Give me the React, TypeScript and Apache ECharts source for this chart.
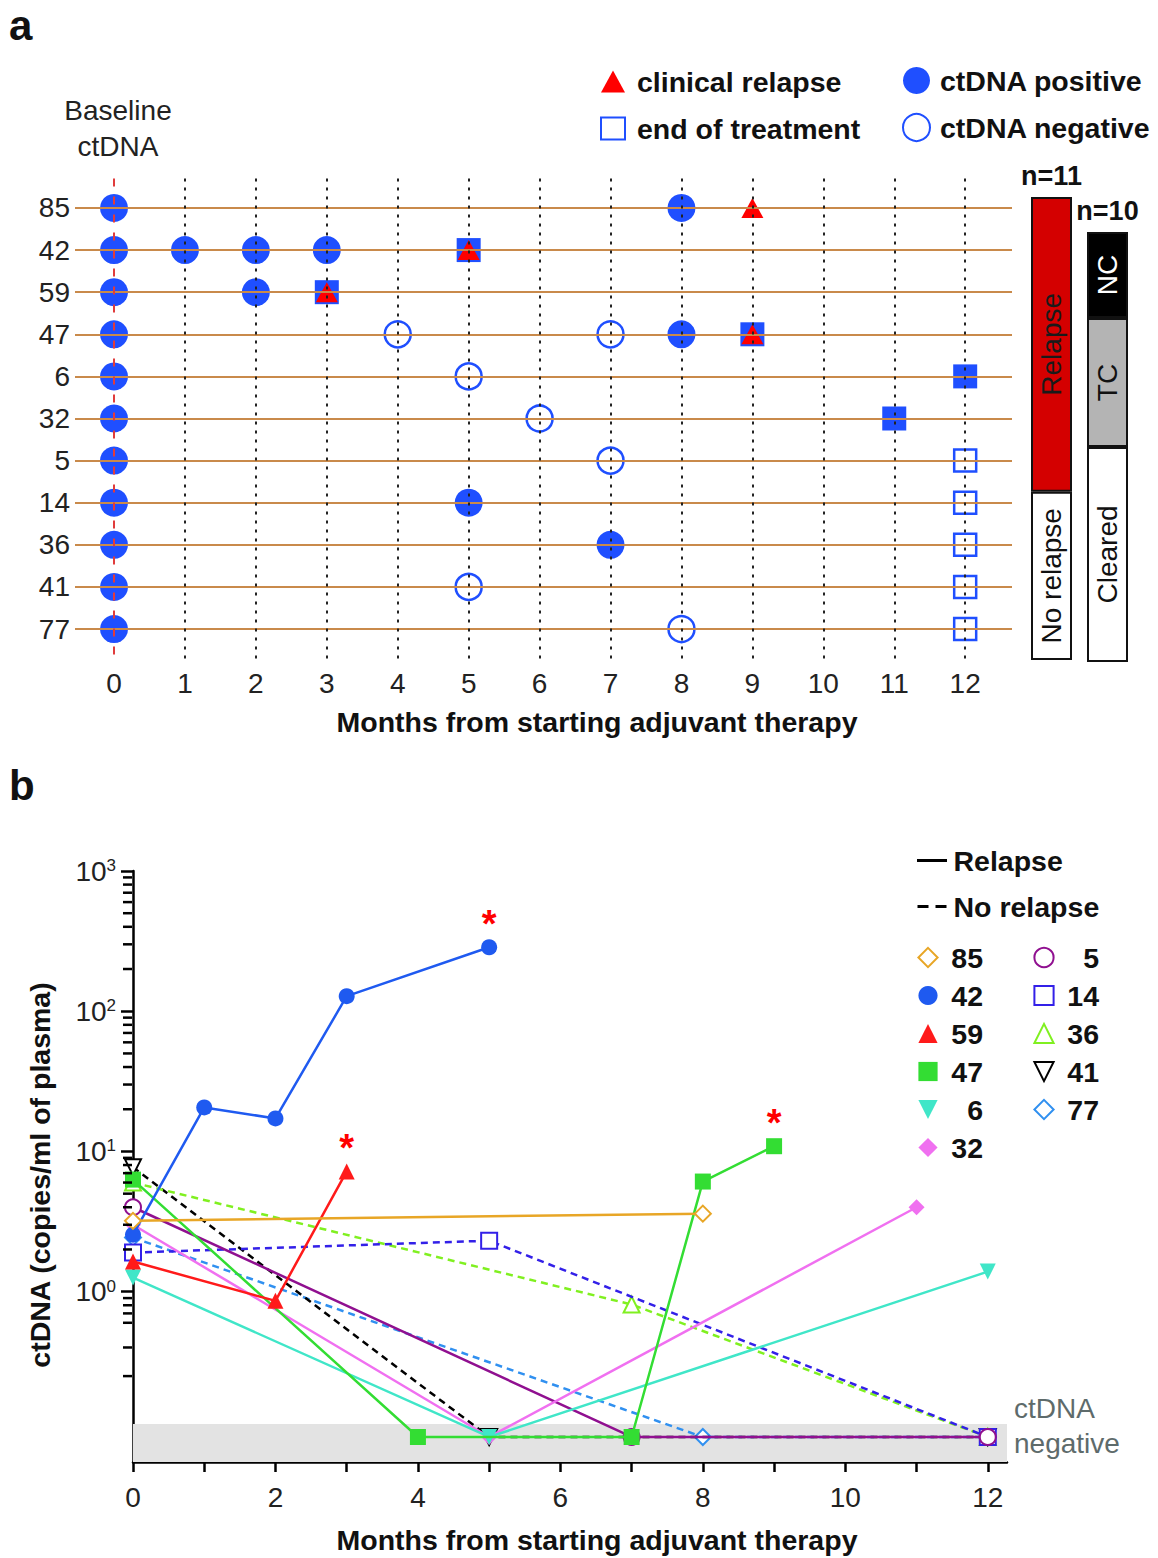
import React, { useEffect, useRef } from 'react';
import * as echarts from 'echarts';

const FONT = 'Liberation Sans, Arial, Helvetica, sans-serif';

// ---------------- Panel a data ----------------
const ROWS = ['85', '42', '59', '47', '6', '32', '5', '14', '36', '41', '77'];
const MONTHS_A = [0, 1, 2, 3, 4, 5, 6, 7, 8, 9, 10, 11, 12];
const POSITIVE: [string, number][] = [
  ['85', 0], ['85', 8],
  ['42', 0], ['42', 1], ['42', 2], ['42', 3],
  ['59', 0], ['59', 2],
  ['47', 0], ['47', 8],
  ['6', 0], ['32', 0], ['5', 0],
  ['14', 0], ['14', 5],
  ['36', 0], ['36', 7],
  ['41', 0], ['77', 0],
];
const NEGATIVE: [string, number][] = [
  ['47', 4], ['47', 7], ['6', 5], ['32', 6], ['5', 7], ['41', 5], ['77', 8],
];
const EOT_POS: [string, number][] = [['42', 5], ['59', 3], ['47', 9], ['6', 12], ['32', 11]];
const EOT_NEG: [string, number][] = [['5', 12], ['14', 12], ['36', 12], ['41', 12], ['77', 12]];
const RELAPSE: [string, number][] = [['85', 9], ['42', 5], ['59', 3], ['47', 9]];

// Summary bars
const BAR_N = ['n=11', 'n=10'];
const BAR1_LABELS = ['No relapse', 'Relapse'];
const BAR1_VALUES = [4, 7];
const BAR1_COLORS = ['#ffffff', '#d40000'];
const BAR1_TEXT = ['#111111', '#1a1a1a'];
const BAR2_LABELS = ['Cleared', 'TC', 'NC'];
const BAR2_VALUES = [5, 3, 2];
const BAR2_COLORS = ['#ffffff', '#b4b4b4', '#000000'];
const BAR2_TEXT = ['#111111', '#111111', '#ffffff'];

// ---------------- Panel b data ----------------
const NEG = 0.092; // ctDNA negative plotting level
const P85 = [[0, 3.2], [8, 3.6]];
const P42 = [[0, 2.55], [1, 20.6], [2, 17.2], [3, 128], [5, 286]];
const P59 = [[0, 1.64], [2, 0.86], [3, 7.2]];
const P47 = [[0, 6.3], [4, NEG], [7, NEG], [8, 6.1], [9, 10.9]];
const P6 = [[0, 1.26], [5, NEG], [12, 1.39]];
const P32 = [[0, 3.0], [5, NEG], [11, 4.0]];
const P5 = [[0, 4.0], [7, NEG], [12, NEG]];
const P14 = [[0, 1.9], [5, 2.31], [12, NEG]];
const P36 = [[0, 6.0], [7, 0.81], [12, NEG]];
const P41 = [[0, 7.7], [5, NEG], [12, NEG]];
const P77 = [[0, 2.43], [8, NEG], [12, NEG]];

const B_IDS = ['85', '42', '59', '47', '6', '32', '5', '14', '36', '41', '77'];
const B_DATA = [P85, P42, P59, P47, P6, P32, P5, P14, P36, P41, P77];
const B_COLORS = ['#e8a626', '#1f5af0', '#ff1a1a', '#33dd33', '#40e6c8', '#f070f0', '#901090', '#3320e8', '#80f020', '#000000', '#3090f0'];
const B_SYMBOLS = ['emptyDiamond', 'circle', 'triangle', 'rect', 'triangle', 'diamond', 'emptyCircle', 'emptyRect', 'emptyTriangle', 'emptyTriangle', 'emptyDiamond'];
const B_ROTATE = [0, 0, 0, 0, 180, 0, 0, 0, 0, 180, 0];
const B_DASHED = [false, false, false, false, false, false, false, true, true, true, true];
const STARRED = ['42', '59', '47'];
const X_LABELS_B = [0, 2, 4, 6, 8, 10, 12];
const Y_MAJOR = [1, 10, 100, 1000];
const Y_MINOR = [0.25, 0.4, 0.6, 0.7, 0.8, 0.9, 2, 3, 4, 5, 6, 7, 8, 9, 20, 30, 40, 50, 60, 70, 80, 90, 200, 300, 400, 500, 600, 700, 800, 900];
const BAND = [0.061, 0.114];
const NEG_LABEL = 'ctDNA\nnegative';
const X_TITLE = 'Months from starting adjuvant therapy';
const Y_TITLE_B = 'ctDNA (copies/ml of plasma)';

const toRow = (arr: [string, number][]) => arr.map(([id, m]) => [m, ROWS.indexOf(id)]);

const FS = 28; // regular text size
const FSB = 28.5; // bold text size

export default function App() {
  const ref = useRef<HTMLDivElement>(null);
  useEffect(() => {
    document.body.style.margin = '0';
    const chart = echarts.init(ref.current!, null, { renderer: 'svg' });
    const BLUE = '#1f4fff';

    const lineSeriesB = B_IDS.map((id, i) => {
      const data: any[] = B_DATA[i].map((p) => [p[0], p[1]]);
      if (STARRED.includes(id)) {
        const last = data[data.length - 1];
        data[data.length - 1] = {
          value: last,
          label: { show: true, formatter: '*', position: 'top', distance: -4, color: '#ff0000', fontSize: 38, fontWeight: 'bold' },
        };
      }
      const empty = B_SYMBOLS[i].startsWith('empty');
      return {
        name: id,
        type: 'line',
        xAxisIndex: 1,
        yAxisIndex: 1,
        data,
        symbol: B_SYMBOLS[i],
        symbolSize: 16,
        symbolRotate: B_ROTATE[i],
        showSymbol: true,
        z: 30 - i,
        lineStyle: { color: B_COLORS[i], width: 2.5, type: B_DASHED[i] ? [7, 5] : 'solid' },
        itemStyle: { color: B_COLORS[i], borderWidth: empty ? 3 : 0, opacity: 1 },
        emphasis: { disabled: true },
      };
    });

    const legendNum = (left: number, ids: string[]) => ({
      data: ids, orient: 'vertical', left, top: 938, itemWidth: 24, itemHeight: 24, itemGap: 9,
      selectedMode: false, lineStyle: { width: 0, opacity: 0 },
      formatter: (n: string) => `{n|${n}}`,
      textStyle: { rich: { n: { width: 38, align: 'right', fontSize: FSB, fontWeight: 'bold', color: '#111' } } },
    });

    const option: any = {
      animation: false,
      textStyle: { fontFamily: FONT },
      grid: [
        { left: 75, right: 146, top: 178.5, bottom: 1558 - 658.5 },
        { left: 133, right: 151, top: 871, bottom: 96 },
        { left: 1031, width: 41, top: 197, height: 463 },
        { left: 1087, width: 41, top: 232, height: 430 },
      ],
      xAxis: [
        {
          gridIndex: 0, type: 'value', min: -0.55, max: 12.66,
          axisLine: { show: false }, axisTick: { show: false }, splitLine: { show: false },
          axisLabel: { customValues: MONTHS_A, fontSize: FS, color: '#222', margin: 11 },
        },
        {
          gridIndex: 1, type: 'value', min: 0, max: 12.27,
          axisLine: { show: true, onZero: false, lineStyle: { color: '#000', width: 2.5 } },
          axisTick: { show: true, customValues: MONTHS_A, length: 10, lineStyle: { color: '#000', width: 2.5 } },
          axisLabel: { customValues: X_LABELS_B, fontSize: FS, color: '#222', margin: 21 },
          splitLine: { show: false },
        },
        {
          gridIndex: 2, type: 'category', data: [BAR_N[0]], position: 'top',
          axisLine: { show: false }, axisTick: { show: false },
          axisLabel: { fontSize: 27, fontWeight: 'bold', color: '#111', margin: 8 },
        },
        {
          gridIndex: 3, type: 'category', data: [BAR_N[1]], position: 'top',
          axisLine: { show: false }, axisTick: { show: false },
          axisLabel: { fontSize: 27, fontWeight: 'bold', color: '#111', margin: 8 },
        },
      ],
      yAxis: [
        {
          gridIndex: 0, type: 'value', inverse: true, min: -0.7, max: 10.7,
          axisLine: { show: false }, axisTick: { show: false }, splitLine: { show: false },
          axisLabel: { customValues: ROWS.map((_, i) => i), formatter: (v: number) => ROWS[Math.round(v)], fontSize: FS, color: '#222', margin: 5 },
        },
        {
          gridIndex: 1, type: 'log', logBase: 10, min: BAND[0], max: 1000, position: 'left',
          axisLine: { show: true, onZero: false, lineStyle: { color: '#000', width: 2.5 } },
          axisTick: { show: true, customValues: Y_MAJOR, length: 12, lineStyle: { color: '#000', width: 2.5 } },
          axisLabel: {
            customValues: Y_MAJOR, margin: 17,
            formatter: (v: number) => `{b|10}{s|${Math.round(Math.log10(v))}}`,
            rich: { b: { fontSize: FS, color: '#222' }, s: { fontSize: 17, color: '#222', verticalAlign: 'top' } },
          },
          splitLine: { show: false },
        },
        { gridIndex: 2, type: 'value', min: 0, max: 11, show: false },
        { gridIndex: 3, type: 'value', min: 0, max: 10, show: false },
      ],
      legend: [
        {
          data: ['clinical relapse', 'end of treatment'], orient: 'vertical', left: 595, top: 62,
          itemWidth: 24, itemHeight: 22, itemGap: 18, selectedMode: false,
          formatter: (n: string) => `{t|${n}}`,
          textStyle: { rich: { t: { fontSize: FSB, fontWeight: 'bold', color: '#111', padding: [0, 0, 0, 7] } } },
        },
        {
          data: ['ctDNA positive', 'ctDNA negative'], orient: 'vertical', left: 897, top: 61,
          itemWidth: 27, itemHeight: 27, itemGap: 18, selectedMode: false,
          formatter: (n: string) => `{t|${n}}`,
          textStyle: { rich: { t: { fontSize: FSB, fontWeight: 'bold', color: '#111', padding: [0, 0, 0, 5] } } },
        },
        {
          data: [
            { name: 'Relapse', icon: 'path://M0,0H30V3H0Z' },
            { name: 'No relapse', icon: 'path://M0,0H11V3H0Z M18,0H29V3H18Z' },
          ],
          orient: 'vertical', left: 912, top: 841, itemWidth: 33, itemHeight: 3, itemGap: 17, selectedMode: false,
          textStyle: { fontSize: FSB, fontWeight: 'bold', color: '#111' },
        },
        legendNum(911, B_IDS.slice(0, 6)),
        legendNum(1027, B_IDS.slice(6)),
      ],
      graphic: [
        { type: 'text', x: 9, y: 4, style: { text: 'a', fontSize: 42, fontWeight: 'bold', fontFamily: FONT, fill: '#111', verticalAlign: 'top' } },
        { type: 'text', x: 9, y: 764, style: { text: 'b', fontSize: 42, fontWeight: 'bold', fontFamily: FONT, fill: '#111', verticalAlign: 'top' } },
        { type: 'text', x: 118, y: 128, style: { text: 'Baseline\nctDNA', fontSize: FS, lineHeight: 36, fontFamily: FONT, fill: '#222', align: 'center', verticalAlign: 'middle' } },
        { type: 'text', x: 597, y: 722, style: { text: X_TITLE, fontSize: FSB, fontWeight: 'bold', fontFamily: FONT, fill: '#111', align: 'center', verticalAlign: 'middle' } },
        { type: 'text', x: 597, y: 1540, style: { text: X_TITLE, fontSize: FSB, fontWeight: 'bold', fontFamily: FONT, fill: '#111', align: 'center', verticalAlign: 'middle' } },
        { type: 'text', x: 40, y: 1175, rotation: Math.PI / 2, style: { text: Y_TITLE_B, fontSize: FSB, fontWeight: 'bold', fontFamily: FONT, fill: '#111', align: 'center', verticalAlign: 'middle' } },
      ],
      series: [
        // Panel a guide lines
        {
          name: 'guides', type: 'line', xAxisIndex: 0, yAxisIndex: 0, data: [], z: 1, silent: true,
          markLine: {
            silent: true, symbol: ['none', 'none'], label: { show: false }, animation: false,
            data: [
              ...ROWS.map((_, i) => ({ yAxis: i, lineStyle: { color: '#c98a4b', width: 2, type: 'solid' } })),
              ...MONTHS_A.slice(1).map((m) => ({ xAxis: m, lineStyle: { color: '#222', width: 2, type: [3, 6] } })),
              { xAxis: 0, lineStyle: { color: '#e03c3c', width: 2, type: [8, 10] } },
            ],
          },
        },
        {
          name: 'ctDNA positive', type: 'scatter', xAxisIndex: 0, yAxisIndex: 0, data: toRow(POSITIVE),
          symbol: 'circle', symbolSize: 28, itemStyle: { color: BLUE, opacity: 1 }, z: 3,
        },
        {
          name: 'ctDNA negative', type: 'scatter', xAxisIndex: 0, yAxisIndex: 0, data: toRow(NEGATIVE),
          symbol: 'circle', symbolSize: 26, itemStyle: { color: 'rgba(255,255,255,0)', borderColor: BLUE, borderWidth: 2.5, opacity: 1 }, z: 3,
        },
        {
          name: 'end of treatment', type: 'scatter', xAxisIndex: 0, yAxisIndex: 0, data: toRow(EOT_NEG),
          symbol: 'rect', symbolSize: 22, itemStyle: { color: 'rgba(255,255,255,0)', borderColor: BLUE, borderWidth: 2.5, opacity: 1 }, z: 3,
        },
        {
          name: 'end of treatment (ctDNA positive)', type: 'scatter', xAxisIndex: 0, yAxisIndex: 0, data: toRow(EOT_POS),
          symbol: 'rect', symbolSize: 24, itemStyle: { color: BLUE, opacity: 1 }, z: 3,
        },
        {
          name: 'clinical relapse', type: 'scatter', xAxisIndex: 0, yAxisIndex: 0, data: toRow(RELAPSE),
          symbol: 'triangle', symbolSize: [22, 20], itemStyle: { color: '#ff0000', opacity: 1 }, z: 4,
        },
        // Summary bars
        ...BAR1_LABELS.map((lab, i) => ({
          name: 'bar1-' + lab, type: 'bar', stack: 'b1', xAxisIndex: 2, yAxisIndex: 2, barWidth: 41,
          data: [BAR1_VALUES[i]],
          itemStyle: { color: BAR1_COLORS[i], borderColor: '#111', borderWidth: 2 },
          label: { show: true, position: 'inside', rotate: 90, formatter: () => lab, fontSize: FS, color: BAR1_TEXT[i] },
          silent: true,
        })),
        ...BAR2_LABELS.map((lab, i) => ({
          name: 'bar2-' + lab, type: 'bar', stack: 'b2', xAxisIndex: 3, yAxisIndex: 3, barWidth: 41,
          data: [BAR2_VALUES[i]],
          itemStyle: { color: BAR2_COLORS[i], borderColor: '#111', borderWidth: 2 },
          label: { show: true, position: 'inside', rotate: 90, formatter: () => lab, fontSize: FS, color: BAR2_TEXT[i] },
          silent: true,
        })),
        // Panel b minor ticks (log spaced), placed through the axis scale
        {
          name: 'minor ticks', type: 'scatter', xAxisIndex: 1, yAxisIndex: 1, clip: false, silent: true, z: 40,
          data: Y_MINOR.map((v) => [0, v]),
          symbol: 'rect', symbolSize: [9, 2.5], symbolOffset: [-5.5, 0],
          itemStyle: { color: '#000', opacity: 1 },
        },
        // Panel b negative band
        {
          name: 'band', type: 'line', xAxisIndex: 1, yAxisIndex: 1, data: [], z: 0, silent: true,
          markArea: {
            silent: true,
            itemStyle: { color: '#e3e3e3' },
            label: { show: true, position: 'right', formatter: NEG_LABEL, color: '#5e6b6b', fontSize: FS, lineHeight: 35, offset: [2, -17] },
            data: [[{ yAxis: BAND[0] }, { yAxis: BAND[1] }]],
          },
        },
        {
          name: 'Relapse', type: 'line', xAxisIndex: 1, yAxisIndex: 1, data: [],
          itemStyle: { color: '#000' }, lineStyle: { color: '#000' },
        },
        {
          name: 'No relapse', type: 'line', xAxisIndex: 1, yAxisIndex: 1, data: [],
          itemStyle: { color: '#000' }, lineStyle: { color: '#000', type: 'dashed' },
        },
        ...lineSeriesB,
      ],
    };
    chart.setOption(option);
    return () => chart.dispose();
  }, []);
  return <div ref={ref} style={{ width: 1158, height: 1558 }} />;
}
